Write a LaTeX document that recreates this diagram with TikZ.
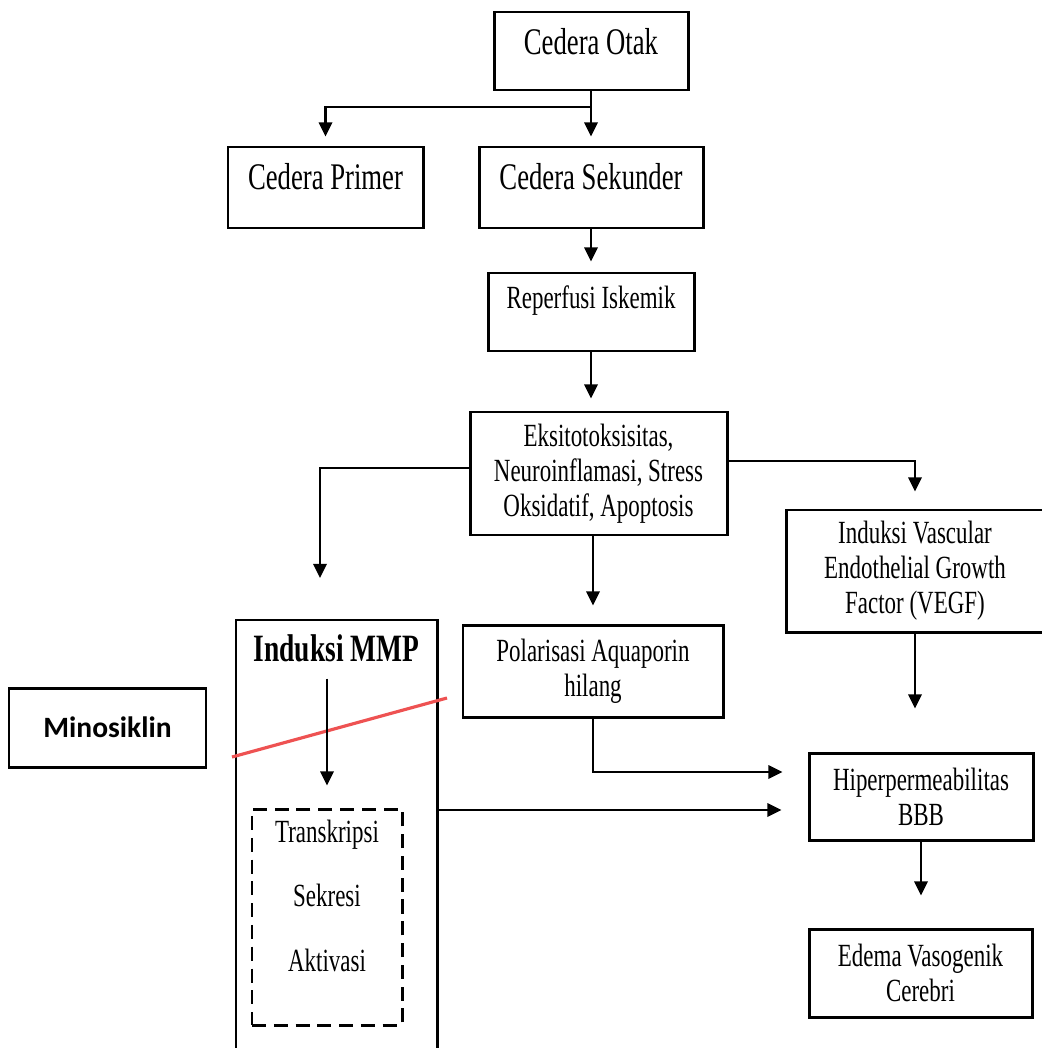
\documentclass[tikz,border=0pt]{standalone}
\usepackage{fontspec}
\setmainfont{Liberation Serif}[FakeStretch=0.71]
\newfontfamily\minofont{Carlito}
\usetikzlibrary{arrows.meta}
\definecolor{blokred}{RGB}{238,82,82}

\begin{document}
\begin{tikzpicture}[
    box/.style={draw, line width=0.85pt, inner sep=0pt, align=center},
    big/.style={font=\fontsize{10.7}{12}\selectfont},
    small/.style={font=\fontsize{9.2}{9.9}\selectfont},
    line/.style={line width=0.65pt},
    arr/.style={line width=0.65pt, -{Triangle[length=4pt,width=3.8pt]}},
    blok/.style={blokred, line width=0.9pt}
]

\useasboundingbox (0,0) rectangle (10.41,-10.48);

% Top
\node[box, big, minimum width=1.94cm, text height=0.425cm, text depth=0.355cm] (otak) at (5.91,-0.51) {Cedera Otak};
\node[box, big, minimum width=1.95cm, text height=0.425cm, text depth=0.385cm] (primer) at (3.255,-1.875) {Cedera Primer};
\node[box, big, minimum width=2.24cm, text height=0.425cm, text depth=0.385cm] (sekunder) at (5.91,-1.875) {Cedera Sekunder};
\node[box, small, minimum width=2.06cm, text height=0.36cm, text depth=0.42cm] (reperfusi) at (5.91,-3.12) {Reperfusi Iskemik};

% Middle
\node[box, small, minimum width=2.57cm, minimum height=1.23cm] (eksito) at (5.985,-4.735) {Eksitotoksisitas,\\Neuroinflamasi, Stress\\Oksidatif, Apoptosis};
\node[box, small, minimum width=2.58cm, minimum height=1.22cm] (vegf) at (9.15,-5.71) {Induksi Vascular\\Endothelial Growth\\Factor (VEGF)};
\node[box, small, minimum width=2.60cm, minimum height=0.92cm] (polar) at (5.93,-6.71) {Polarisasi Aquaporin\\hilang};

% Right column
\node[box, small, minimum width=2.24cm, minimum height=0.87cm] (hiper) at (9.21,-7.965) {Hiperpermeabilitas\\BBB};
\node[box, small, minimum width=2.23cm, minimum height=0.88cm] (edema) at (9.205,-9.73) {Edema Vasogenik\\Cerebri};

% MMP
\node[box, font=\fontsize{11}{13}\selectfont\bfseries, minimum width=2.01cm, text height=0.41cm, text depth=3.97cm] (mmp) at (3.365,-8.39) {Induksi MMP};
\node[box, dash pattern=on 4pt off 2.2pt, minimum width=1.50cm, minimum height=2.16cm] (proses) at (3.27,-9.17) {};
\node[small] (transkripsi) at (3.27,-8.35) {Transkripsi};
\node[small] (sekresi) at (3.27,-8.95) {Sekresi};
\node[small] (aktivasi) at (3.27,-9.60) {Aktivasi};

% Minosiklin
\node[box, font=\minofont\bfseries\fontsize{8.4}{10}\selectfont, minimum width=1.97cm, minimum height=0.79cm] (mino) at (1.075,-7.275) {Minosiklin};
\coordinate (blokA) at (2.32,-7.57);
\coordinate (blokB) at (4.47,-6.98);
\draw[blok] (blokA) -- (blokB);

% Arrows
\coordinate (cabang) at (5.91,-1.07);
\draw[line] (otak.south) -- (cabang);
\draw[arr, shorten >=0.09cm] (cabang) -| (primer.north);
\draw[arr, shorten >=0.09cm] (cabang) -- (sekunder.north);
\draw[arr, shorten >=0.10cm] (sekunder.south) -- (reperfusi.north);
\draw[arr, shorten >=0.12cm] (reperfusi.south) -- (reperfusi.south |- eksito.north);
\draw[arr, shorten >=0.18cm] (eksito.south -| polar.north) -- (polar.north);

\coordinate (keMMP) at (3.20,-5.78);
\draw[arr] ([yshift=0.055cm]eksito.west) -| (keMMP);
\draw[arr, shorten >=0.17cm] ([yshift=0.125cm]eksito.east) -| (vegf.north);
\draw[arr, shorten >=0.43cm] (vegf.south) -- (vegf.south |- hiper.north);

\coordinate (masukA) at ([yshift=0.245cm]hiper.west);
\coordinate (masukB) at ([yshift=-0.135cm]hiper.west);
\draw[arr, shorten >=0.25cm] (polar.south) |- (masukA);
\draw[arr, shorten >=0.26cm] (masukB -| mmp.east) -- (masukB);
\draw[arr, shorten >=0.32cm] (hiper.south) -- (hiper.south |- edema.north);
\draw[arr, shorten >=0.22cm] ([yshift=1.29cm]proses.north) -- (proses.north);

\end{tikzpicture}
\end{document}
